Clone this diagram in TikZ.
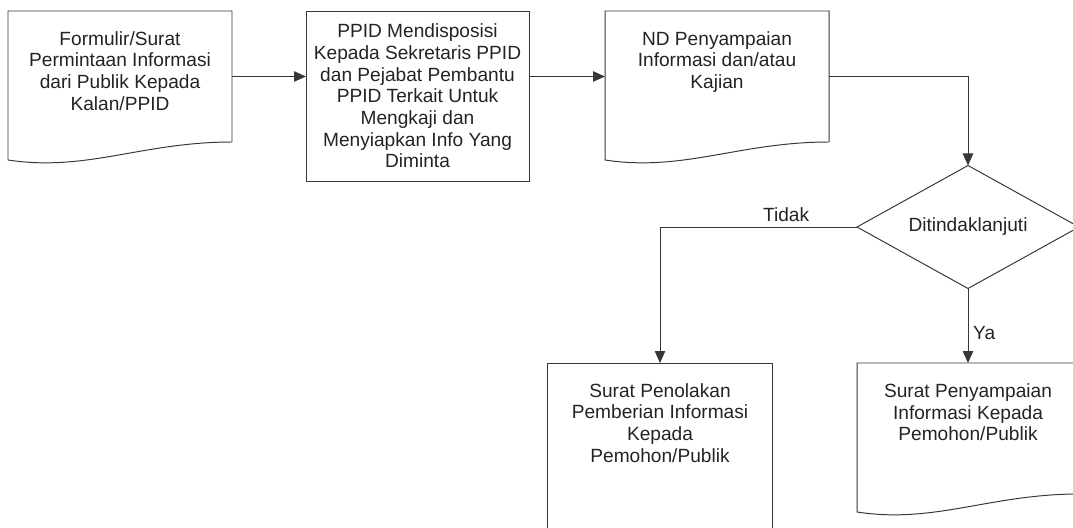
\documentclass[tikz,border=0pt]{standalone}
\usepackage{fontspec}
\setmainfont{Liberation Sans}
\usepackage{tikz}
\usetikzlibrary{shapes.geometric, arrows.meta, positioning, calc}
\definecolor{lineclr}{RGB}{55,55,55}
\definecolor{textclr}{RGB}{35,35,35}

\begin{document}
\begin{tikzpicture}[
    line width=0.7pt,
    every node/.style={font=\fontsize{13.6}{15.4}\selectfont, text=textclr},
    docbox/.style={rectangle, minimum width=5.6cm, minimum height=3.275cm, inner sep=0pt, outer sep=0pt},
    process/.style={rectangle, draw=lineclr, minimum width=5.575cm, inner sep=0pt, outer sep=0pt, align=center},
    decision/.style={diamond, draw=lineclr, aspect=1.8, minimum width=5.55cm, minimum height=3.075cm, inner sep=0pt, outer sep=0pt},
    toptext/.style={anchor=north, yshift=-0.5cm, inner sep=0pt, align=center},
    arrow/.style={draw=lineclr, -{Triangle[length=0.3cm, width=0.26cm]}}
]

% Frame
\useasboundingbox (0,0) rectangle (26.825,-13.2);
\clip (0,0) rectangle (26.825,-13.2);

% Request
\node[docbox, anchor=north west, label={[toptext]north:{Formulir/Surat\\Permintaan Informasi\\dari Publik Kepada\\Kalan/PPID}}] (form) at (0.2,-0.275) {};

% Disposition
\node[process, minimum height=4.25cm, below right=0cm and 1.85cm of form.north east] (dispo) {PPID Mendisposisi\\Kepada Sekretaris PPID\\dan Pejabat Pembantu\\PPID Terkait Untuk\\Mengkaji dan\\Menyiapkan Info Yang\\Diminta};

% Note
\node[docbox, below right=0cm and 1.9cm of dispo.north east, label={[toptext]north:{ND Penyampaian\\Informasi dan/atau\\Kajian}}] (nd) {};

% Decision
\node[decision] (check) at (24.2,-5.675) {Ditindaklanjuti};

% Outcomes
\node[docbox, minimum width=5.55cm, below=1.8625cm of check, label={[toptext]north:{Surat Penyampaian\\Informasi Kepada\\Pemohon/Publik}}] (yes) {};
\node[process, minimum width=5.625cm, minimum height=4.3cm, anchor=north, label={[toptext]north:{Surat Penolakan\\Pemberian Informasi\\Kepada\\Pemohon/Publik}}] (no) at (16.5,-9.075) {};

% Document outlines
\foreach \n in {form, nd, yes}
  \draw[lineclr] (\n.south east) -- (\n.north east) -- (\n.north west) -- ($(\n.south west)+(0,-0.45)$)
    .. controls ($(\n.south west)!0.35!(\n.south east)+(0,-0.75)$) and ($(\n.south west)!0.6!(\n.south east)$) .. (\n.south east);

% Arrows
\draw[arrow] (form.east) -- (form.east -| dispo.west);
\draw[arrow] (form.east -| dispo.east) -- (nd.west);
\draw[arrow] (nd.east) -| (check.north);
\draw[arrow] (check.west) -| node[pos=0.18, above] {Tidak} (no.north);
\draw[arrow] (check.south) -- node[pos=0.6, right] {Ya} (yes.north);

\end{tikzpicture}
\end{document}
